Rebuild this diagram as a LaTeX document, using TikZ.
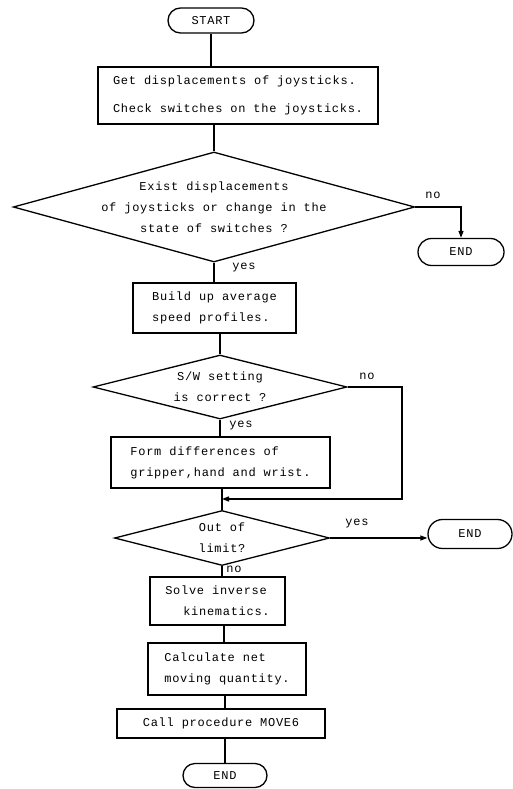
\documentclass[tikz,border=0pt]{standalone}
\usepackage{fontspec}
\setmonofont[LetterSpace=6]{Liberation Mono}
\usetikzlibrary{shapes.geometric,shapes.misc,arrows.meta,calc}
\tikzset{
  base/.style={draw, line width=1.3pt, inner sep=0pt, font=\ttfamily\fontsize{12}{21}\selectfont},
  proc/.style={base, rectangle, align=left},
  term/.style={base, rounded rectangle},
  dec/.style={base, diamond, align=center},
  conn/.style={line width=1.3pt},
  arr/.style={conn, -{Triangle[length=7pt,width=5pt]}},
  lbl/.style={font=\ttfamily\fontsize{12}{14}\selectfont, inner sep=1pt}
}
\begin{document}
\begin{tikzpicture}[x=1pt,y=-1pt]
\useasboundingbox (0,0) rectangle (513,789);
% nodes
\node[term, minimum width=86pt, minimum height=25pt] (start) at (211,20.5) {START};
\node[proc, minimum width=280pt, minimum height=57pt] (box1) at (238,95.5)
  {Get displacements of joysticks.\\[7pt]Check switches on the joysticks.};
\node[dec, shape aspect=3.65, inner sep=-1pt] (d1) at (214,207)
  {Exist displacements\\of joysticks or change in the\\state of switches ?};
\node[term, minimum width=86pt, minimum height=27pt] (end1) at (461,252) {END};
\node[proc, minimum width=163pt, minimum height=50pt] (box2) at (214.5,308)
  {Build up average\\speed profiles.};
\node[dec, shape aspect=3.95, minimum width=254pt, minimum height=64pt] (d2) at (220,387)
  {S/W setting\\is correct ?};
\node[proc, minimum width=219pt, minimum height=51pt] (box3) at (220.5,462.5)
  {Form differences of\\gripper,hand and wrist.};
\node[dec, shape aspect=3.9, minimum width=215pt, minimum height=55pt] (d3) at (222,538)
  {Out of\\limit?};
\node[term, minimum width=84pt, minimum height=29pt] (end3) at (470,534) {END};
\node[proc, minimum width=135pt, minimum height=48pt] (box4) at (217.5,601)
  {Solve inverse\\\hspace*{18pt}kinematics.};
\node[proc, minimum width=158pt, minimum height=52pt] (box5) at (227,669)
  {Calculate net\\moving quantity.};
\node[proc, minimum width=208pt, minimum height=29pt] (box6) at (221,723.5)
  {Call procedure MOVE6};
\node[term, minimum width=84pt, minimum height=24pt] (end4) at (225,775.5) {END};
% labels
\node[lbl] (l1) at (433,195) {no};
\node[lbl] (l2) at (244,268) {yes};
\node[lbl] (l3) at (367,376) {no};
\node[lbl] (l4) at (241,426) {yes};
\node[lbl] (l5) at (357,524) {yes};
\node[lbl] (l6) at (234,569) {no};
% connectors
\coordinate (loopc) at (402,499);
\draw[conn] (start.south) -- (start.south |- box1.north);
\draw[conn] (d1.north |- box1.south) -- (d1.north);
\draw[conn] (d1.south) -- (d1.south |- box2.north);
\draw[arr] (d1.east) -| (end1.north);
\draw[conn] (d2.north |- box2.south) -- (d2.north);
\draw[conn] (d2.south) -- (d2.south |- box3.north);
\draw[arr] (d2.east) -| (loopc) -- (loopc -| d3.north);
\draw[conn] (d3.north |- box3.south) -- (d3.north);
\draw[arr] (d3.east) -- (d3.east -| end3.west);
\draw[conn] (d3.south) -- (d3.south |- box4.north);
\draw[conn] ([xshift=6.5pt]box4.south) -- ([xshift=6.5pt]box4.south |- box5.north);
\draw[conn] ([xshift=-2pt]box5.south) -- ([xshift=-2pt]box5.south |- box6.north);
\draw[conn] (end4.north |- box6.south) -- (end4.north);
\end{tikzpicture}
\end{document}
